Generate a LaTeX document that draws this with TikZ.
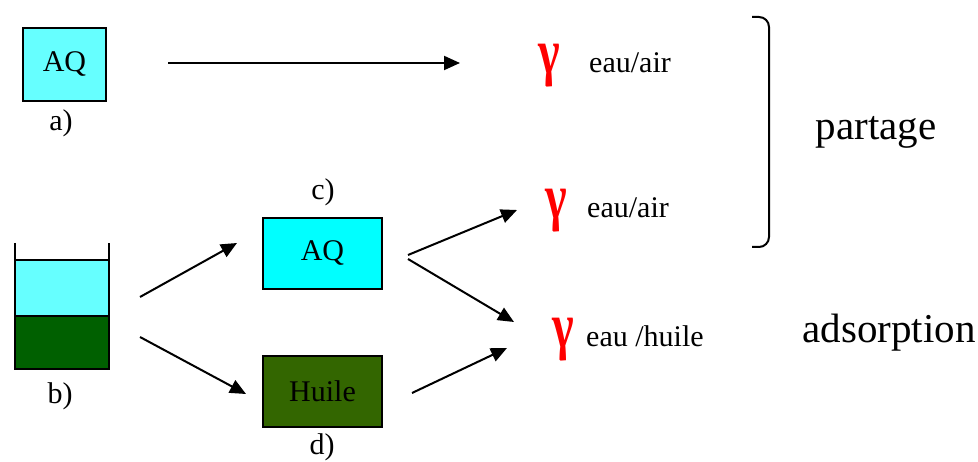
\documentclass[tikz,border=0pt]{standalone}
\usepackage{fontspec}
\setmainfont{Liberation Serif}
\usetikzlibrary{arrows.meta}
\definecolor{aqlight}{HTML}{66FFFF}
\definecolor{aqcyan}{HTML}{00FFFF}
\definecolor{oilgreen}{HTML}{336600}
\definecolor{darkoil}{HTML}{006000}
\tikzset{
  phase/.style={draw=black, line width=2pt, minimum width=#1, inner sep=0pt},
  lbl/.style={font=\fontsize{30}{34}\selectfont, inner sep=0pt},
  big/.style={font=\fontsize{41}{46}\selectfont, inner sep=0pt},
  gam/.style={text=red, inner sep=0pt},
  flow/.style={line width=2pt, -{Triangle[length=16pt,width=14pt]}},
}
\newcommand{\gammasym}{\scalebox{0.72}[1]{\fontsize{64}{68}\selectfont\bfseries γ}}
\begin{document}
\begin{tikzpicture}[x=1pt, y=-1pt]
\useasboundingbox (0,0) rectangle (978,462);

% case a): the pure aqueous phase
\node[phase=83pt, minimum height=73pt, fill=aqlight, lbl] (boxa) at (64.5,64.5) {AQ};
\node[lbl] (laba) at (61,123) {a)};

% case b): beaker with the two phases
\fill[aqlight] (15,260) rectangle (109,316);
\fill[darkoil] (15,316) rectangle (109,369);
\draw[line width=2pt] (15,316) -- (109,316);
\draw[line width=2pt] (15,260) -- (109,260);
\draw[line width=2pt] (15,243) -- (15,369) -- (109,369) -- (109,243);
\node[lbl] (labb) at (60,396) {b)};

% cases c) and d): the separated phases
\node[phase=119pt, minimum height=71pt, fill=aqcyan, lbl] (boxc) at (322.5,253.5) {AQ};
\node[lbl] (labc) at (323,192) {c)};
\node[phase=119pt, minimum height=71pt, fill=oilgreen, lbl] (boxd) at (322.5,391.5) {Huile};
\node[lbl] (labd) at (322,447) {d)};

% tensions
\node[gam] (g1) at (549,66) {\gammasym};
\node[lbl, anchor=base west] (t1) at (589,73) {eau/air};
\node[gam] (g2) at (556,211) {\gammasym};
\node[lbl, anchor=base west] (t2) at (587,218) {eau/air};
\node[gam] (g3) at (563,340) {\gammasym};
\node[lbl, anchor=base west] (t3) at (586,347) {eau /huile};

% bracket and regimes
\draw[line width=2pt, rounded corners=10pt] (752,17) -- (769,17) -- (769,247) -- (752,247);
\node[big, anchor=base] (part) at (876,140) {partage};
\node[big, anchor=base] (ads) at (889,343) {adsorption};

% arrow end points
\coordinate (a0) at (168,63);
\coordinate (a1) at (460,63);
\coordinate (b0) at (140,297);
\coordinate (b1) at (237,243);
\coordinate (b2) at (140,337);
\coordinate (b3) at (246,394);
\coordinate (c0) at (408,255);
\coordinate (c1) at (517,210);
\coordinate (c2) at (408,259);
\coordinate (c3) at (514,322);
\coordinate (d0) at (412,393);
\coordinate (d1) at (507,348);

\draw[flow] (a0) -- (a1);
\draw[flow] (b0) -- (b1);
\draw[flow] (b2) -- (b3);
\draw[flow] (c0) -- (c1);
\draw[flow] (c2) -- (c3);
\draw[flow] (d0) -- (d1);
\end{tikzpicture}
\end{document}
